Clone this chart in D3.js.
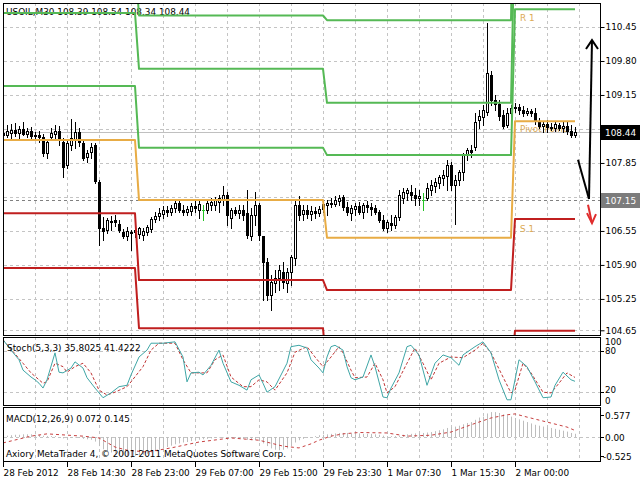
<!DOCTYPE html>
<html><head><meta charset="utf-8">
<script src="https://cdn.jsdelivr.net/npm/d3@7/dist/d3.min.js"></script>
<style>
body{margin:0;background:#fff}
svg{display:block}
text{font-family:"DejaVu Sans",Verdana,sans-serif;font-size:8.9px;fill:#000}
</style>
</head><body>
<svg id="c" width="640" height="480"></svg>
<script>
// ---------- DATA ----------
const opens=[108.42,108.39,108.42,108.48,108.42,108.50,108.40,108.46,108.37,108.39,
108.35,108.04,108.35,108.40,108.46,108.25,107.81,108.19,108.29,108.44,
108.23,107.96,108.06,108.19,107.49,106.61,106.57,106.74,106.76,106.68,
106.53,106.45,106.51,106.53,106.49,106.47,106.53,106.59,106.78,106.84,
106.87,106.95,106.91,106.99,107.08,106.95,106.91,106.93,107.03,106.95,
106.95,106.95,107.05,107.05,107.10,107.14,107.24,106.80,106.95,106.89,
106.95,106.89,106.45,106.86,107.05,106.45,105.96,105.33,105.56,105.65,
105.77,105.56,105.77,106.03,107.05,106.87,106.95,106.87,106.93,106.89,
106.97,107.05,107.08,107.07,107.12,107.20,107.01,106.89,106.97,107.03,
106.91,107.05,107.01,106.99,106.91,106.76,106.61,106.70,106.66,106.82,
107.18,107.28,107.30,107.24,107.18,107.14,107.18,107.33,107.41,107.47,
107.56,107.60,107.81,107.43,107.52,107.68,108.00,108.10,108.16,108.67,
108.73,108.82,109.53,109.05,108.98,108.77,108.58,108.81,108.90,108.92,
108.86,108.81,108.84,108.81,108.65,108.56,108.60,108.54,108.52,108.58,
108.52,108.56,108.46,108.39];
const highs=[108.52,108.58,108.60,108.61,108.56,108.63,108.52,108.54,108.44,108.46,
108.40,108.29,108.52,108.58,108.56,108.33,108.29,108.69,108.63,108.52,
108.29,108.10,108.23,108.23,107.52,106.82,106.80,106.84,106.86,106.76,
106.59,106.63,106.57,106.61,106.63,106.61,106.66,106.82,106.91,106.99,
107.03,107.03,107.05,107.14,107.14,107.05,107.03,107.08,107.14,107.14,
107.05,107.14,107.18,107.20,107.24,107.41,107.30,106.99,107.01,107.05,
107.05,107.33,106.99,107.30,107.08,106.38,106.03,105.71,105.80,105.90,
105.96,105.84,106.09,107.14,107.22,107.05,107.05,107.03,107.01,107.03,
107.14,107.14,107.18,107.22,107.24,107.24,107.10,107.05,107.08,107.10,
107.08,107.12,107.08,107.05,106.95,106.86,106.76,106.86,106.86,107.33,
107.37,107.37,107.43,107.37,107.33,107.28,107.47,107.52,107.56,107.62,
107.72,107.91,107.87,107.62,107.72,108.04,108.14,108.19,108.81,108.86,
108.96,110.53,109.60,109.15,109.05,108.86,108.90,108.96,109.00,108.98,
108.94,108.90,108.88,108.90,108.71,108.63,108.67,108.61,108.65,108.61,
108.63,108.63,108.58,108.54];
const lows=[108.35,108.35,108.29,108.37,108.33,108.39,108.35,108.29,108.31,108.25,
107.98,107.95,108.29,108.33,108.19,107.58,107.75,108.10,108.14,108.17,
107.91,107.87,107.95,107.47,106.28,106.38,106.51,106.57,106.64,106.53,
106.42,106.38,106.19,106.43,106.42,106.38,106.47,106.53,106.72,106.76,
106.80,106.84,106.86,106.91,106.91,106.86,106.86,106.86,106.91,106.80,
106.76,106.89,106.95,106.95,106.91,107.05,106.66,106.61,106.86,106.80,
106.76,106.42,106.38,106.66,106.38,105.23,105.23,105.04,105.38,105.42,
105.46,105.38,105.52,105.90,106.76,106.76,106.80,106.76,106.80,106.84,
106.91,106.86,107.01,107.03,107.05,106.95,106.86,106.76,106.86,106.87,
106.80,106.91,106.86,106.87,106.72,106.57,106.53,106.57,106.61,106.76,
107.08,107.14,107.14,107.05,107.05,106.95,107.14,107.24,107.30,107.37,
107.43,107.33,107.33,106.68,107.43,107.52,107.91,107.96,108.10,108.52,
108.58,108.77,108.96,108.86,108.67,108.52,108.54,108.71,108.82,108.79,
108.75,108.77,108.75,108.60,108.52,108.44,108.44,108.48,108.46,108.48,
108.44,108.40,108.35,108.34];
const closes=[108.39,108.46,108.48,108.42,108.50,108.40,108.46,108.37,108.39,108.35,
108.04,108.25,108.42,108.46,108.29,107.77,108.23,108.33,108.44,108.25,
107.95,108.04,108.16,107.51,106.61,106.55,106.76,106.72,106.72,106.57,
106.45,106.55,106.53,106.57,106.61,106.55,106.63,106.78,106.84,106.89,
106.95,106.91,106.99,107.08,106.95,106.91,106.97,107.03,106.99,107.07,
106.95,107.08,107.10,107.14,107.18,107.24,106.86,106.95,106.89,106.95,
106.86,106.47,106.86,107.05,106.47,105.96,105.33,105.57,105.65,105.80,
105.57,105.77,106.05,107.05,106.86,106.95,106.87,106.93,106.89,106.97,
107.07,107.08,107.07,107.14,107.18,107.01,106.91,106.99,107.03,106.91,
107.05,107.01,106.97,106.91,106.76,106.61,106.72,106.66,106.82,107.24,
107.30,107.33,107.24,107.18,107.22,107.14,107.37,107.43,107.49,107.58,
107.62,107.81,107.43,107.52,107.68,108.00,108.10,108.06,108.63,108.75,
108.86,109.57,109.05,108.98,108.75,108.56,108.81,108.90,108.92,108.86,
108.81,108.84,108.81,108.65,108.56,108.60,108.54,108.52,108.60,108.52,
108.56,108.46,108.39,108.44];

// daily pivot levels (first bar of each day)
const dayStart=[0,34,81,128];
const R3=[111.75,110.67,110.58,114.80];
const R2=[110.72,109.65,109.00,112.66];
const R1=[109.32,108.14,108.00,110.79];
const PP=[108.29,107.14,106.42,108.65];
const S1=[106.89,105.61,105.42,106.78];
const S2=[105.84,104.69,103.84,104.64];
const S3=[104.46,103.08,102.84,102.77];

// Stochastic (bar, value)
const stochMain=[[0,96],[2,81],[4,67],[5,52],[7,42],[8,38],[9,33],[10,26],[11,38],[13,77],[14,49],[15,48],[17,55],[18,64],[20,55],[21,41],[23,26],[25,12],[27,19],[29,28],[31,30],[32,45],[34,71],[36,81],[37,91],[40,91],[43,93],[45,71],[46,35],[47,48],[49,49],[50,45],[52,59],[54,81],[55,62],[57,35],[59,30],[61,23],[62,38],[64,45],[65,33],[66,20],[68,28],[71,62],[72,86],[74,88],[76,84],[77,67],[79,55],[80,48],[81,71],[82,86],[83,88],[85,81],[86,57],[87,41],[88,38],[90,42],[92,74],[93,57],[95,13],[96,12],[97,26],[99,48],[101,86],[102,88],[104,74],[106,30],[108,62],[110,74],[112,70],[114,59],[115,74],[118,86],[120,93],[122,77],[124,38],[126,9],[127,9],[129,67],[131,57],[133,35],[135,12],[137,13],[138,30],[140,49],[142,38],[143,35.8]];
const stochSignal=[[0,96],[5,62],[7,48],[10,33],[11,35],[13,62],[15,57],[16,49],[18,57],[20,62],[22,48],[24,23],[26,16],[28,20],[31,28],[32,35],[35,57],[37,81],[39,91],[41,91],[43,91],[45,67],[47,48],[48,48],[51,48],[53,67],[55,74],[57,42],[60,28],[62,28],[64,38],[66,35],[68,23],[71,48],[73,78],[76,86],[78,71],[80,57],[82,71],[84,86],[85,77],[87,52],[88,41],[91,42],[93,62],[95,38],[96,19],[98,28],[101,62],[103,84],[105,62],[107,38],[109,62],[112,71],[115,70],[118,81],[120,91],[122,77],[125,42],[127,19],[128,23],[130,62],[132,48],[135,20],[137,19],[139,33],[141,48],[143,41.4]];

// MACD histogram per bar
const macdHist=[0.02,0.03,0.04,0.05,0.05,0.06,0.06,0.06,0.05,0.05,
0.03,0.02,0.02,0.02,0.00,-0.03,-0.03,-0.02,-0.01,-0.02,
-0.04,-0.05,-0.06,-0.10,-0.20,-0.27,-0.31,-0.34,-0.36,-0.38,
-0.40,-0.41,-0.41,-0.41,-0.40,-0.39,-0.37,-0.34,-0.31,-0.28,
-0.25,-0.22,-0.19,-0.16,-0.14,-0.12,-0.11,-0.09,-0.08,-0.06,
-0.05,-0.04,-0.03,-0.02,-0.01,-0.01,-0.02,-0.02,-0.02,-0.03,
-0.04,-0.06,-0.07,-0.07,-0.09,-0.14,-0.20,-0.25,-0.28,-0.29,
-0.28,-0.25,-0.20,-0.12,-0.07,-0.04,-0.02,0.00,0.02,0.04,
0.05,0.06,0.07,0.08,0.09,0.09,0.09,0.08,0.08,0.08,
0.07,0.07,0.07,0.06,0.05,0.03,0.02,0.02,0.02,0.03,
0.05,0.06,0.07,0.08,0.08,0.09,0.10,0.11,0.13,0.15,
0.17,0.20,0.22,0.23,0.25,0.28,0.31,0.33,0.38,0.43,
0.45,0.52,0.55,0.55,0.53,0.50,0.48,0.45,0.42,0.39,
0.36,0.33,0.30,0.27,0.25,0.23,0.21,0.20,0.18,0.16,
0.14,0.12,0.09,0.072];
const macdSignal=[[0,-0.13],[7,0.02],[11,0.07],[20,0.02],[24,-0.02],[28,-0.22],[31,-0.29],[36,-0.33],[42,-0.24],[49,-0.11],[57,-0.02],[64,-0.07],[70,-0.20],[74,-0.24],[77,-0.15],[79,-0.07],[82,0.02],[85,0.07],[89,0.10],[96,0.09],[101,0.02],[107,0.04],[112,0.11],[117,0.27],[122,0.42],[126,0.49],[128,0.51],[131,0.44],[136,0.33],[141,0.22],[143,0.145]];

const priceGrid=[110.45,109.80,109.15,108.50,107.85,107.20,106.55,105.90,105.25,104.65];
const priceLabels=[110.45,109.80,109.15,107.85,106.55,105.90,105.25,104.65];
const timeTicks=[0,16,32,48,64,80,96,112,128];
const timeLabels=["28 Feb 2012","28 Feb 14:30","28 Feb 23:00","29 Feb 07:00","29 Feb 15:00","29 Feb 23:30","1 Mar 07:30","1 Mar 15:30","2 Mar 00:00"];
const stochLevels=[100,80,20,0];
const macdLevels=[0.577,0.00,-0.525];
const bidPrice=108.44, hLinePrice=107.15;
const arrowDown=[[143.75,107.91],[146.5,107.16]];
const arrowUp=[[146.5,107.16],[147.25,110.20]];
const arrowUpHead=[[145.75,110.03],[147.25,110.20],[148.75,110.03]];
const arrowRed=[[146.25,107.05],[147.25,106.70]];
const arrowRedHead=[[146,106.89],[147.25,106.70],[148.25,106.87]];

// ---------- CHART ----------
const svg=d3.select("#c");
const W=600, mainT=3, mainB=335, stT=337, stB=405, mT=407, mB=461;
const x=d3.scaleLinear().domain([0,144]).range([3,579]);
const yP=d3.scaleLinear().domain([104.65,110.45]).range([330.3,27]);
const yS=d3.scaleLinear().domain([0,100]).range([406,337]);
const yM=d3.scaleLinear().domain([-0.55,0.64]).range([462,408]);
const GRID="#c4c4c4";

const defs=svg.append("defs");
defs.append("clipPath").attr("id","cm").append("rect").attr("x",4).attr("y",4).attr("width",W-4).attr("height",mainB-4);
defs.append("clipPath").attr("id","cs").append("rect").attr("x",4).attr("y",stT+1).attr("width",W-4).attr("height",stB-stT-1);
defs.append("clipPath").attr("id","cmm").append("rect").attr("x",4).attr("y",mT+1).attr("width",W-4).attr("height",mB-mT-1);

// vertical grid
const vg=d3.range(8,145,8);
[[mainT,mainB],[stT,stB],[mT,mB]].forEach(([t,b])=>{
  svg.append("g").selectAll("line").data(vg).join("line")
   .attr("x1",d=>Math.round(x(d))+0.5).attr("x2",d=>Math.round(x(d))+0.5)
   .attr("y1",t).attr("y2",b).attr("stroke",GRID).attr("stroke-dasharray","3,3");
});
// horizontal grids
svg.append("g").selectAll("line").data(priceGrid).join("line")
 .attr("x1",4).attr("x2",W).attr("y1",d=>Math.round(yP(d))+0.5).attr("y2",d=>Math.round(yP(d))+0.5)
 .attr("stroke",GRID).attr("stroke-dasharray","3,3");
svg.append("g").selectAll("line").data([80,20]).join("line")
 .attr("x1",4).attr("x2",W).attr("y1",d=>Math.round(yS(d))+0.5).attr("y2",d=>Math.round(yS(d))+0.5)
 .attr("stroke",GRID).attr("stroke-dasharray","3,3");
svg.append("line").attr("x1",4).attr("x2",W).attr("y1",Math.round(yM(0))+0.5).attr("y2",Math.round(yM(0))+0.5)
 .attr("stroke",GRID).attr("stroke-dasharray","3,3");

// bid line & horizontal line object
svg.append("line").attr("x1",4).attr("x2",W).attr("y1",Math.round(yP(bidPrice))+0.5).attr("y2",Math.round(yP(bidPrice))+0.5).attr("stroke","#c0c0c0");
svg.append("line").attr("x1",4).attr("x2",W).attr("y1",Math.round(yP(hLinePrice))+0.5).attr("y2",Math.round(yP(hLinePrice))+0.5).attr("stroke","#808080").attr("stroke-dasharray","3,3");

// header
svg.append("text").attr("x",6).attr("y",15).text("USOIL,M30  108.39 108.54 108.34 108.44");

// pivot labels (background objects)
const lblC="#dcaa55";
const lastDay=dayStart.length-1;
svg.append("text").attr("x",x(129.25)).attr("y",21).style("fill",lblC).text("R 1");
svg.append("text").attr("x",x(129.25)).attr("y",yP(PP[lastDay])+11).style("fill",lblC).text("Pivot Point");
svg.append("text").attr("x",x(129.25)).attr("y",yP(S1[lastDay])+13).style("fill",lblC).text("S 1");

// candles
const gC=svg.append("g").attr("clip-path","url(#cm)");
const idx=d3.range(opens.length);
idx.forEach(i=>{
  const cx=Math.round(x(i));
  const o=opens[i],c=closes[i];
  const doji=o===c;
  const col=doji?"#22c322":"#000";
  gC.append("line").attr("x1",cx+0.5).attr("x2",cx+0.5)
    .attr("y1",Math.round(yP(highs[i]))).attr("y2",Math.round(yP(lows[i]))+1).attr("stroke",col);
  const top=Math.round(yP(Math.max(o,c))), bot=Math.round(yP(Math.min(o,c)));
  if(doji){
    gC.append("line").attr("x1",cx-1).attr("x2",cx+2).attr("y1",top+0.5).attr("y2",top+0.5).attr("stroke",col);
  } else if(c<o){
    gC.append("rect").attr("x",cx-1).attr("y",top).attr("width",3).attr("height",Math.max(1,bot-top+1)).attr("fill","#000");
  } else {
    gC.append("rect").attr("x",cx-0.5).attr("y",top+0.5).attr("width",2).attr("height",Math.max(1,bot-top)).attr("fill","#fff").attr("stroke","#000");
  }
});

// pivot lines
const dayOf=i=>{let d=0;dayStart.forEach((s,k)=>{if(i>=s)d=k;});return d;};
const gP=svg.append("g").attr("clip-path","url(#cm)");
function pivotLine(levels,color){
  gP.append("path").datum(idx)
   .attr("d",d3.line().x(i=>x(i)).y(i=>yP(levels[dayOf(i)])))
   .attr("fill","none").attr("stroke",color).attr("stroke-width",2).attr("stroke-linejoin","round");
}
const GREEN="#55b955",ORANGE="#e8ac45",RED="#c01f1f";
pivotLine(R3,GREEN);pivotLine(R2,GREEN);pivotLine(R1,GREEN);
pivotLine(S3,RED);pivotLine(S2,RED);pivotLine(S1,RED);
pivotLine(PP,ORANGE);

// arrows
const la=d3.line().x(d=>x(d[0])).y(d=>yP(d[1]));
[[arrowDown,"#000"],[arrowUp,"#000"],[arrowUpHead,"#000"],[arrowRed,"#e02c2c"],[arrowRedHead,"#e02c2c"]].forEach(([p,c])=>{
  svg.append("path").attr("d",la(p)).attr("fill","none").attr("stroke",c).attr("stroke-width",2);
});

// stochastic
const gS=svg.append("g").attr("clip-path","url(#cs)");
gS.append("path").attr("d",d3.line().x(d=>x(d[0])).y(d=>yS(d[1]))(stochSignal))
  .attr("fill","none").attr("stroke","#c03535").attr("stroke-dasharray","3,2");
gS.append("path").attr("d",d3.line().x(d=>x(d[0])).y(d=>yS(d[1]))(stochMain))
  .attr("fill","none").attr("stroke","#3fa6a6");
svg.append("text").attr("x",7).attr("y",351).text("Stoch(5,3,3) 35.8025 41.4222");

// MACD
const gM=svg.append("g").attr("clip-path","url(#cmm)");
gM.selectAll("line.h").data(idx).join("line")
  .attr("x1",i=>Math.round(x(i))+0.5).attr("x2",i=>Math.round(x(i))+0.5)
  .attr("y1",Math.round(yM(0))).attr("y2",i=>yM(macdHist[i])).attr("stroke","#bdbdbd");
gM.append("path").attr("d",d3.line().x(d=>x(d[0])).y(d=>yM(d[1]))(macdSignal))
  .attr("fill","none").attr("stroke","#c84040").attr("stroke-dasharray","3,3");
svg.append("text").attr("x",6).attr("y",422).text("MACD(12,26,9) 0.072 0.145");
svg.append("text").attr("x",6).attr("y",457).text("Axiory MetaTrader 4, \u00a9 2001-2011 MetaQuotes Software Corp.");

// frames
[[mainT,mainB],[stT,stB],[mT,mB]].forEach(([t,b])=>{
  svg.append("rect").attr("x",3.5).attr("y",t+0.5).attr("width",W-3).attr("height",b-t)
   .attr("fill","none").attr("stroke","#000");
});

// price axis
const ax=svg.append("g").attr("transform",`translate(${W+0.5},0)`)
  .call(d3.axisRight(yP).tickValues(priceLabels).tickSize(4).tickSizeOuter(0).tickFormat(d3.format(".2f")));
ax.select(".domain").remove();
ax.selectAll("text").attr("x",5).style("font-family","DejaVu Sans, Verdana, sans-serif").style("font-size","8.9px");
ax.selectAll("line").attr("stroke","#000");
// price boxes
function priceBox(p,bg){
  const yy=Math.round(yP(p));
  svg.append("line").attr("x1",W).attr("x2",W+4).attr("y1",yy+0.5).attr("y2",yy+0.5).attr("stroke","#000");
  svg.append("rect").attr("x",W+1).attr("y",yy-7).attr("width",39).attr("height",15).attr("fill",bg);
  svg.append("text").attr("x",W+5).attr("y",yy+4).style("fill","#fff").text(p.toFixed(2));
}
priceBox(bidPrice,"#000");
priceBox(hLinePrice,"#7c7c7c");

// stoch labels
const stochPos={100:342,80:351,20:390,0:401};
stochLevels.forEach(v=>{
  svg.append("text").attr("x",W+5).attr("y",stochPos[v]+3.2).style("font-size","8.7px").text(v);
  if(v===80||v===20) svg.append("line").attr("x1",W).attr("x2",W+4).attr("y1",Math.round(yS(v))+0.5).attr("y2",Math.round(yS(v))+0.5).attr("stroke","#000");
});
macdLevels.forEach(v=>{
  const yy=Math.max(415,Math.min(456,yM(v)));
  svg.append("text").attr("x",v<0?W+3:W+5).attr("y",yy+3.5).text(v===0?"0.00":String(v));
  svg.append("line").attr("x1",W).attr("x2",W+4).attr("y1",Math.round(yy)+0.5).attr("y2",Math.round(yy)+0.5).attr("stroke","#000");
});

// time axis
const tg=svg.append("g");
timeTicks.forEach((b,k)=>{
  const tx=Math.round(x(b))+0.5;
  tg.append("line").attr("x1",tx).attr("x2",tx).attr("y1",mB+1).attr("y2",mB+6).attr("stroke","#000");
  tg.append("text").attr("x",tx).attr("y",476).text(timeLabels[k]);
});
</script>
</body></html>
